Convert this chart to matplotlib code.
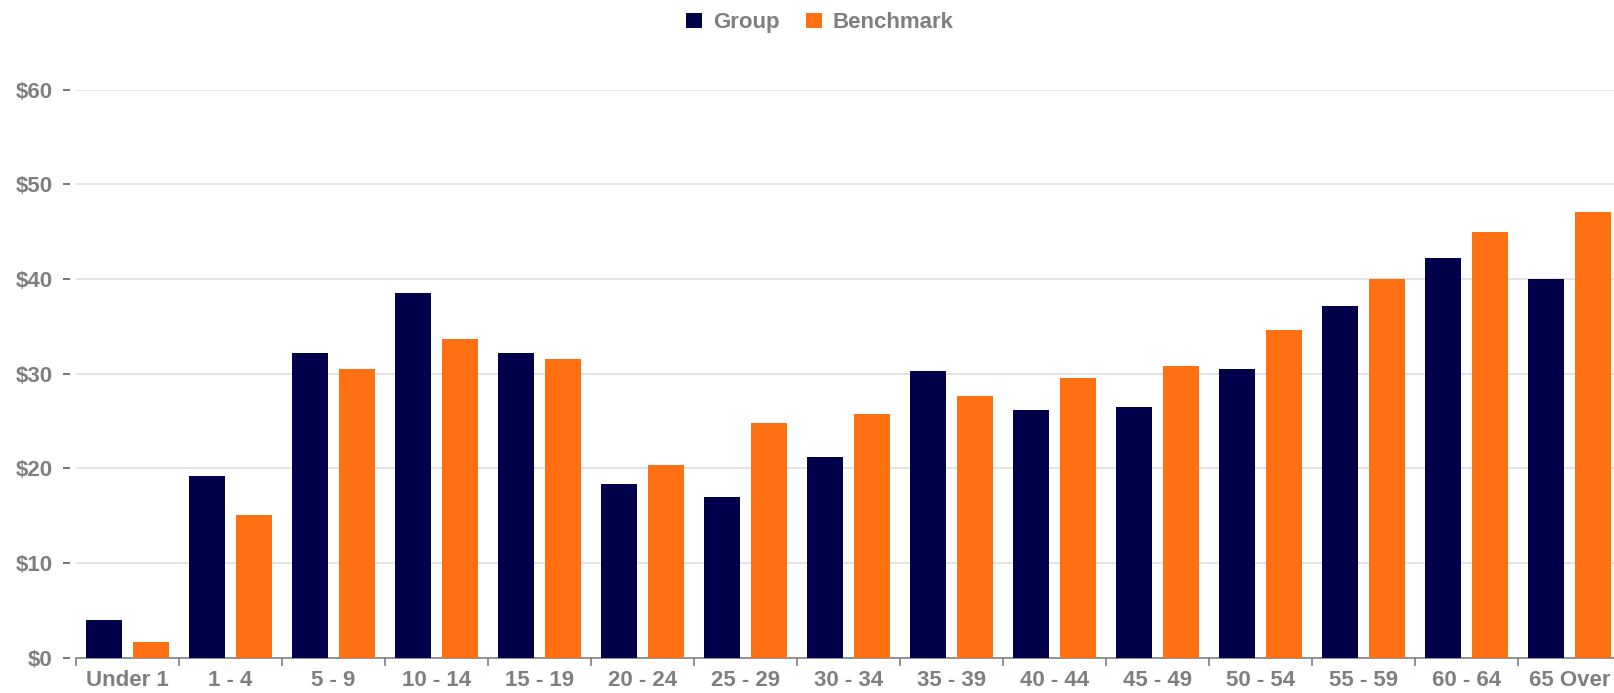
import matplotlib
matplotlib.use("Agg")
import matplotlib.pyplot as plt
from matplotlib.patches import Patch
from matplotlib.ticker import FixedLocator
import numpy as np

# values
AGE_BANDS = ["Under 1", "1 - 4", "5 - 9", "10 - 14", "15 - 19", "20 - 24", "25 - 29",
             "30 - 34", "35 - 39", "40 - 44", "45 - 49", "50 - 54", "55 - 59",
             "60 - 64", "65 Over"]
GROUP = [4.0, 19.2, 32.2, 38.5, 32.2, 18.3, 17.0, 21.2, 30.3, 26.2, 26.5, 30.5, 37.1, 42.2, 40.0]
BENCHMARK = [1.7, 15.1, 30.5, 33.7, 31.5, 20.3, 24.8, 25.7, 27.6, 29.5, 30.8, 34.6, 40.0, 44.9, 47.1]
Y_TICKS = [0, 10, 20, 30, 40, 50, 60]

NAVY = "#00004B"
ORANGE = "#FF7013"
TEXT_GRAY = "#7F7F7F"

plt.rcParams.update({
    "font.family": ["Liberation Sans", "DejaVu Sans"],
    "font.size": 16,
    "font.weight": "bold",
})

fig = plt.figure(figsize=(16.14, 6.93), dpi=100)
ax = fig.add_axes([76 / 1614, 35.3 / 693, 1545 / 1614, 568.2 / 693])

x = np.arange(len(AGE_BANDS))
w = 0.35
ax.bar(x - 0.225, GROUP, w, color=NAVY, zorder=3)
ax.bar(x + 0.225, BENCHMARK, w, color=ORANGE, zorder=3)

ax.set_xlim(-0.5, len(AGE_BANDS) - 0.5)
ax.set_ylim(0, 60)

ax.set_yticks(Y_TICKS)
ax.set_yticklabels([f"${v}" for v in Y_TICKS], fontweight="bold")
for v in Y_TICKS[1:]:
    ax.axhline(v, color="#E4E4E4", linewidth=1.4, zorder=1)

ax.set_xticks(x)
ax.set_xticklabels(AGE_BANDS, fontweight="bold")
ax.xaxis.set_minor_locator(FixedLocator(np.arange(-0.5, len(AGE_BANDS), 1.0)))
ax.tick_params(axis="x", which="major", length=0, pad=9, labelcolor=TEXT_GRAY)
ax.tick_params(axis="x", which="minor", length=6, width=1.2, color="#808080", direction="out")
ax.tick_params(axis="y", length=5, width=1.2, color="#606060", pad=8, labelcolor=TEXT_GRAY)

for side in ("top", "right"):
    ax.spines[side].set_visible(False)
ax.spines["left"].set_color("none")
ax.spines["left"].set_position(("outward", 4))
ax.spines["bottom"].set_color("#808080")
ax.spines["bottom"].set_linewidth(1.2)

handles = [Patch(facecolor=NAVY, label="Group"), Patch(facecolor=ORANGE, label="Benchmark")]
leg = fig.legend(handles=handles, loc="center", bbox_to_anchor=(0.508, 0.967), ncol=2,
                 frameon=False, handlelength=0.7, handleheight=0.7, handletextpad=0.5,
                 columnspacing=1.2)
for t in leg.get_texts():
    t.set_color(TEXT_GRAY)

fig.savefig("out.png", dpi=100)
